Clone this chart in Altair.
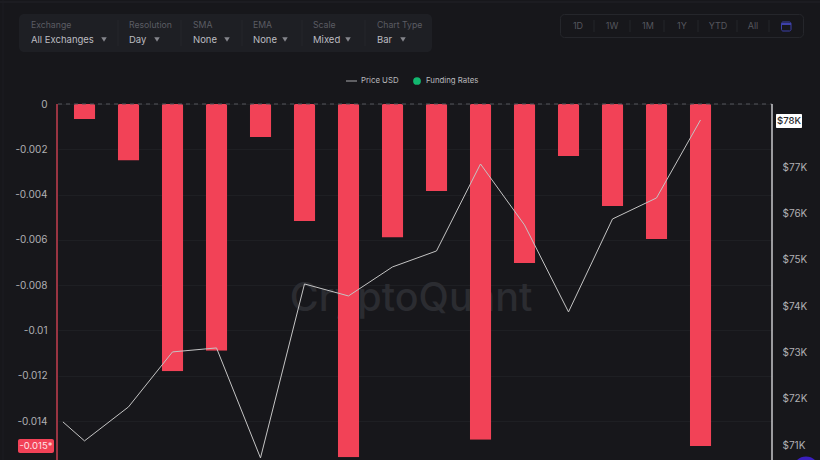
import altair as alt
import pandas as pd

# funding rate bars, one per day
bar_days = [0, 1, 2, 3, 4, 5, 6, 7, 8, 9, 10, 11, 12, 13, 14]
funding_rates = [-0.00066, -0.0025, -0.0118, -0.0109, -0.00146, -0.00517, -0.0156, -0.0059,
                 -0.00384, -0.01483, -0.00702, -0.0023, -0.0045, -0.00596, -0.0151]

# price line, starts half a day before the first bar
price_days = [-0.49, 0, 1, 2, 3, 4, 5, 6, 7, 8, 9, 10, 11, 12, 13, 14]
prices = [71499, 71089, 71823, 73011, 73097, 70721, 74479, 74220,
          74847, 75192, 77071, 75754, 73875, 75883, 76337, 78022]

rate_ticks = [0, -0.002, -0.004, -0.006, -0.008, -0.01, -0.012, -0.014]
price_ticks = [71000, 72000, 73000, 74000, 75000, 76000, 77000]

control_titles = ["Exchange", "Resolution", "SMA", "EMA", "Scale", "Chart Type"]
control_values = ["All Exchanges", "Day", "None", "None", "Mixed", "Bar"]
range_buttons = ["1D", "1W", "1M", "1Y", "YTD", "All"]

BG = "#17171b"
RED = "#f24257"
FONT = "Inter"
LEFT, TOP = 58, 104
W, H = 714, 356
blank = alt.Data(values=[{}])


# page furniture below is placed in page pixels, shifted into the plot's frame
def label(txt, x, y, color="#c4c4c8", size=10, align="left", weight=400):
    return alt.Chart(blank).mark_text(
        text=txt, color=color, fontSize=size, align=align, baseline="middle", font=FONT, fontWeight=weight
    ).encode(x=alt.value(x - LEFT), y=alt.value(y - TOP))


def box(x, y, x2, y2, fill=None, stroke=None, radius=0):
    opts = {"cornerRadius": radius}
    opts["fill"] = fill if fill else "transparent"
    if stroke:
        opts["stroke"] = stroke
    return alt.Chart(blank).mark_rect(**opts).encode(
        x=alt.value(x - LEFT), x2=alt.value(x2 - LEFT), y=alt.value(y - TOP), y2=alt.value(y2 - TOP)
    )


def vline(x, y, y2, color, width=1):
    return alt.Chart(blank).mark_rule(color=color, strokeWidth=width).encode(
        x=alt.value(x - LEFT), y=alt.value(y - TOP), y2=alt.value(y2 - TOP)
    )


def hline(x, x2, y, color, width=1, dash=None):
    opts = {"color": color, "strokeWidth": width}
    if dash:
        opts["strokeDash"] = dash
    return alt.Chart(blank).mark_rule(**opts).encode(
        x=alt.value(x - LEFT), x2=alt.value(x2 - LEFT), y=alt.value(y - TOP)
    )


def dot(x, y, size, color, shape="circle"):
    return alt.Chart(blank).mark_point(filled=True, opacity=1, color=color, size=size, shape=shape).encode(
        x=alt.value(x - LEFT), y=alt.value(y - TOP)
    )


bars_df = pd.DataFrame({"day": bar_days, "rate": funding_rates})
line_df = pd.DataFrame({"day": price_days, "price": prices})

x_scale = alt.Scale(domain=[-0.602, 15.625], nice=False, zero=False, padding=0)
rate_scale = alt.Scale(domain=[-0.01572, 0], nice=False)
price_scale = alt.Scale(domain=[70676, 78367], nice=False, zero=False)

bars = alt.Chart(bars_df).mark_bar(color=RED, size=21.5, orient="vertical", cornerRadiusEnd=2).encode(
    x=alt.X("day:Q", scale=x_scale, axis=None),
    y=alt.Y("rate:Q", scale=rate_scale, title=None, axis=alt.Axis(
        values=rate_ticks, labelExpr="'' + datum.value", orient="left", domain=False, ticks=False,
        labelPadding=11, labelColor="#b0b0b4", labelFont=FONT, labelFontSize=10,
        grid=True, gridColor="#1e1f23", gridWidth=1,
    )),
)

price_line = alt.Chart(line_df).mark_line(color="#c4c4c4", strokeWidth=1).encode(
    x=alt.X("day:Q", scale=x_scale, axis=None),
    y=alt.Y("price:Q", scale=price_scale, title=None, axis=alt.Axis(
        values=price_ticks, labelExpr="'$' + datum.value / 1000 + 'K'", orient="right", domain=False, ticks=False,
        labelPadding=10, labelColor="#b0b0b4", labelFont=FONT, labelFontSize=10, grid=False,
    )),
)

furniture = [
    box(19, 14, 432, 52, fill="#1e1f24", radius=5),
    box(560.5, 14.5, 803.5, 37.5, stroke="#25262b", radius=4),
    hline(0, 820, 2, "#222328"),
    vline(3, 0, 460, "#1d1d22"),
    label("CryptoQuant", 411, 299, color="#2b2c31", size=39.5, align="center", weight=500),
]

# top left dropdowns
title_x = [31, 129, 193, 253, 313, 377]
arrow_x = [104, 157, 227, 285, 348, 403]
for t, v, x, ax in zip(control_titles, control_values, title_x, arrow_x):
    furniture.append(label(t, x, 25, color="#5b5c63", size=8.7))
    furniture.append(label(v, x, 39.5, color="#bcbcc0", size=9.5))
    furniture.append(dot(ax, 39.5, 30, "#85868c", "triangle-down"))
for x in [118, 181, 242, 302, 365]:
    furniture.append(vline(x, 20, 46, "#25262b"))

# top right range buttons
for t, x in zip(range_buttons, [578, 612, 648, 682, 718, 753]):
    furniture.append(label(t, x, 26, color="#55565d", size=9, align="center"))
for x in [594, 630, 664, 698, 737, 769]:
    furniture.append(vline(x, 20, 32, "#25262b"))
furniture.append(box(781.5, 22, 791, 31, stroke="#3d40a8", radius=1.5))
furniture.append(hline(781.5, 791, 24, "#3d40a8", width=2))

# legend
furniture += [
    hline(346, 357, 81, "#a8a8ac"),
    label("Price USD", 361, 81, color="#b8b8bc", size=7.8),
    dot(417, 81, 60, "#12b76f"),
    label("Funding Rates", 426, 81, color="#b8b8bc", size=7.8),
]

overlay = [
    hline(58, 772, 104, "#55565c", dash=[4, 4]),
    vline(57, 104, 460, "#c63f50", width=1.5),
    vline(772, 104, 460, "#c8c8cc", width=1.5),
    box(18, 439, 54, 453, fill=RED, radius=2),
    label("-0.015*", 36, 446, color="#ffe3e6", size=9.5, align="center"),
    box(776, 114, 802, 128, fill="#ffffff", radius=1),
    label("$78K", 789, 121, color="#26262a", size=9.5, align="center", weight=500),
    dot(806, 470, 720, "#3a1fbf"),
]

chart = alt.layer(*furniture, bars, price_line, *overlay).resolve_scale(y="independent").properties(
    width=W,
    height=H,
    background=BG,
    padding={"left": LEFT, "top": TOP, "right": 820 - LEFT - W, "bottom": 0},
    autosize=alt.AutoSizeParams(type="none"),
).configure_view(stroke=None)

chart.save("out.html", embed_options={
    "renderer": "svg",
    "actions": False,
    "defaultStyle": "body{margin:0;overflow:hidden;background:#17171b}",
})
